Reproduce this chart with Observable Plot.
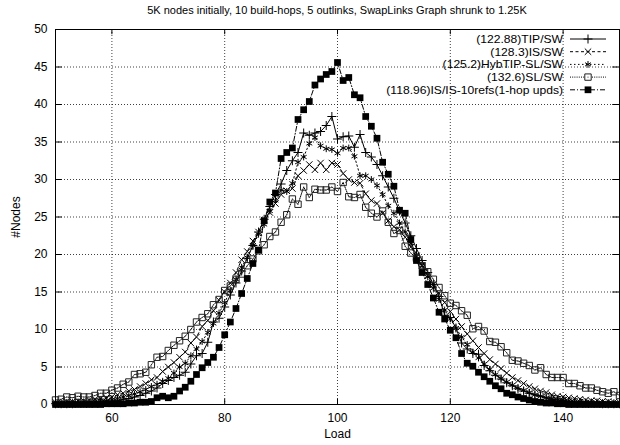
<!DOCTYPE html>
<html><head><meta charset="utf-8">
<script src="https://cdn.jsdelivr.net/npm/d3@7"></script>
<script src="https://cdn.jsdelivr.net/npm/@observablehq/plot@0.6"></script>
<style>
body{margin:0;background:#fff;font-family:"Liberation Sans",Arial,sans-serif;}
#wrap{position:relative;width:620px;height:445px;}
#title{position:absolute;left:0;width:674px;top:4px;text-align:center;font-size:11px;color:#000;}
</style></head><body>
<div id="wrap"><div id="title">5K nodes initially, 10 build-hops, 5 outlinks, SwapLinks Graph shrunk to 1.25K</div></div>
<script>
const xTicks = [60, 80, 100, 120, 140];
const yTicks = [0, 5, 10, 15, 20, 25, 30, 35, 40, 45, 50];
const loads = d3.range(50, 151);
const seriesNames = ["(122.88)TIP/SW", "(128.3)IS/SW", "(125.2)HybTIP-SL/SW", "(132.6)SL/SW", "(118.96)IS/IS-10refs(1-hop upds)"];

const tipSW = [0.1,0.1,0.1,0.1,0.2,0.2,0.2,0.3,0.3,0.4,
 0.4,0.5,0.7,0.8,1.0,1.2,1.5,1.8,2.2,2.8,
 3.2,3.6,3.9,4.3,5.4,6.5,6.8,8.3,11,11.5,
 13.0,14.6,16.2,17.8,19.5,21.2,23,24.7,26.4,28,
 29.4,31.2,32.5,33.6,36.2,35.9,36.2,36.4,37.2,38.4,
 35.4,35.7,35.8,34.3,36,33.6,33,32,30.5,29,
 27.5,25.8,24.2,22.5,20.8,19.2,17.6,16,14.4,11.9,
 11.6,10.2,8.2,7.4,6.8,6.7,5.2,4.5,3.9,3.4,
 2.9,2.5,2.1,1.8,1.5,1.3,1.1,0.9,0.7,0.6,
 0.5,0.4,0.3,0.3,0.2,0.2,0.2,0.1,0.1,0.1,0.1];
const isSW = [0.3,0.3,0.4,0.4,0.5,0.5,0.6,0.7,0.8,0.9,
 1.0,1.3,1.5,1.8,2.0,2.4,2.8,3.3,3.6,4.4,
 5.0,5.6,6.3,7.0,8.2,9.0,10.4,11.2,12.5,13.9,
 15.0,16.2,17.6,19.3,20.4,21.8,23.0,24.6,25.6,26.8,
 28.0,28.5,28.8,30.5,31.2,32,31.3,32.2,31.3,32.2,
 32,30.8,30,29.6,29.5,28.1,27.2,26.8,25.5,24.5,
 23.7,23.3,22.3,21,19.8,18.5,17.2,16.0,14.8,13.6,
 12.4,11.4,10.4,9.4,8.5,7.6,6.8,6.0,5.4,4.8,
 4.2,3.6,3.2,2.8,2.4,2.1,1.8,1.6,1.3,1.1,
 1.0,0.9,0.8,0.7,0.6,0.5,0.5,0.4,0.4,0.3,0.3];
const hybSW = [0.1,0.1,0.2,0.2,0.2,0.3,0.3,0.4,0.5,0.5,
 0.6,0.8,1.0,1.2,1.4,1.7,2.0,2.4,2.7,3.1,
 3.5,4.2,5.0,5.5,6.5,7.4,8.4,9.6,10.8,12.2,
 13.6,15.2,16.7,18.3,19.6,21.2,22.7,24.0,25.8,27.2,
 28.6,28.4,29.5,32.3,33,34.8,35.6,34.5,34.1,34.0,
 33.5,34.2,34.2,33.1,30.5,30.5,30.0,29.2,28,26.5,
 25.5,24.2,23,21.5,20,18.5,17,15.5,14,12.6,
 11.4,10.2,9.0,8.0,7.0,6.2,5.4,4.7,4.0,3.5,
 3.0,2.6,2.2,1.9,1.6,1.3,1.1,0.9,0.8,0.7,
 0.6,0.5,0.4,0.4,0.3,0.3,0.2,0.2,0.2,0.1,0.1];
const slSW = [0.6,0.7,1.0,0.9,1.1,1.0,1.0,1.2,1.5,1.5,
 1.9,2.2,2.7,3.0,4.0,4.1,4.3,5.3,6.3,6.4,
 7.2,7.9,8.5,9.1,10.0,11.0,11.6,12.1,13.3,14,
 15.2,15.8,16.7,17.4,18.5,19.4,20.5,21.3,22.4,23,
 24.3,25.3,27.4,26.7,29,27.6,28.7,28.6,28.6,29,
 28.4,29.6,27.7,27.6,28,26.3,25.5,25,25.8,24.3,
 22.8,23.2,21.1,20.2,19.5,18.5,17.7,16.7,15.6,14.5,
 13.5,13.2,12.5,11.9,10.1,10.4,9.8,8.4,8.3,7.7,
 6.9,5.9,5.8,5.5,5.2,4.6,4.9,4.0,3.6,3.6,
 3.6,2.8,2.8,2.5,2.2,2.2,1.9,1.7,1.5,1.7,1.2];
const isIS = [0,0,0,0,0,0,0,0,0,0.1,
 0.1,0.1,0.1,0.2,0.2,0.3,0.3,0.4,0.9,1.1,
 0.9,1.1,1.8,2.3,3.1,4.0,4.9,5.6,6.3,7.6,
 9.3,11,12.8,14.8,16.8,18.8,20.6,24.5,27,28.2,
 32.8,33.6,34.2,38,39.3,40.4,42.6,43.4,44,44.4,
 45.6,43.2,43.6,41.3,40.9,38.4,37.1,35.5,32.3,30.7,
 29.1,25.9,25.5,22,19.2,17.6,16,14.2,12.3,11.4,
 9.9,8.9,6.8,5.5,5.1,4.3,3.7,3.1,2.5,2.1,
 1.5,1.3,1.0,0.8,0.6,0.4,0.3,0.2,0.2,0.1,
 0.1,0,0,0,0,0,0,0,0,0,0];

const allSeries = [tipSW, isSW, hybSW, slSW, isIS];
const styles = [
  {symbol: "plus", r: 3.0, fill: "none", stroke: "#000", dash: null, center: false},
  {symbol: "times", r: 3.0, fill: "none", stroke: "#000", dash: "3,2.5", center: false},
  {symbol: "asterisk", r: 3.2, fill: "none", stroke: "#000", dash: "1.5,2.5", center: false},
  {symbol: "square", r: 3.6, fill: "none", stroke: "#222", dash: "1,1.2", center: true},
  {symbol: "square", r: 3.8, fill: "#000", stroke: "none", dash: "5,2,1,2", center: false}
];
const rows = [];
allSeries.forEach((arr, si) => arr.forEach((v, i) => rows.push({s: si, load: loads[i], v})));

const marks = [
  Plot.gridX(xTicks, {stroke: "#000", strokeOpacity: 0.75, strokeDasharray: "1,2"}),
  Plot.gridY(yTicks.slice(1, -1), {stroke: "#000", strokeOpacity: 0.75, strokeDasharray: "1,2"}),
  Plot.axisX(xTicks, {anchor: "bottom", tickSize: 0, tickPadding: 9, fontSize: 12, label: "Load", labelAnchor: "center", labelArrow: "none", labelOffset: 33}),
  Plot.axisY(yTicks, {anchor: "left", tickSize: 0, tickPadding: 8, fontSize: 12, label: "#Nodes", labelAnchor: "center", labelArrow: "none", labelOffset: 44}),
  Plot.ruleX(xTicks, {y1: 0, y2: 0.7, stroke: "#000"}),
  Plot.ruleX(xTicks, {y1: 49.3, y2: 50, stroke: "#000"}),
  Plot.ruleY(yTicks, {x1: 50, x2: 51.2, stroke: "#000"}),
  Plot.ruleY(yTicks, {x1: 148.8, x2: 150, stroke: "#000"})
];

styles.forEach((st, si) => {
  const data = rows.filter(r => r.s === si);
  marks.push(Plot.line(data, {x: "load", y: "v", stroke: "#000", strokeWidth: 1, strokeDasharray: st.dash}));
  marks.push(Plot.dot(data, {x: "load", y: "v", symbol: () => st.symbol, r: st.r, fill: st.fill, stroke: st.stroke, strokeWidth: 1}));
  if (st.center) marks.push(Plot.dot(data, {x: "load", y: "v", r: 0.6, fill: "#444", stroke: "none"}));
});
marks.push(Plot.frame({stroke: "#000"}));

const chart = Plot.plot({
  width: 620, height: 445,
  marginLeft: 55, marginRight: 1, marginTop: 29, marginBottom: 41,
  x: {domain: [50, 150]},
  y: {domain: [0, 50]},
  style: {fontFamily: "'Liberation Sans', Arial, sans-serif", fontSize: "12px", color: "#000", background: "#fff"},
  marks
});
document.getElementById("wrap").appendChild(chart);

// legend
const svg = d3.select(chart);
const lg = svg.append("g");
const sym = {plus: d3.symbolPlus, times: d3.symbolTimes, asterisk: d3.symbolAsterisk, square: d3.symbolSquare};
seriesNames.forEach((name, i) => {
  const y = 39 + 12.7 * i, st = styles[i];
  const t = lg.append("text").attr("x", 563).attr("y", y).attr("dy", "0.35em").attr("text-anchor", "end")
    .attr("font-size", 11).attr("fill", "#000").text(name);
  const w = t.node().getComputedTextLength();
  t.attr("textLength", w * 1.1).attr("lengthAdjust", "spacingAndGlyphs");
  lg.append("line").attr("x1", 570).attr("x2", 606).attr("y1", y).attr("y2", y)
    .attr("stroke", "#000").attr("stroke-dasharray", st.dash);
  lg.append("path").attr("transform", `translate(588,${y})`)
    .attr("d", d3.symbol(sym[st.symbol], Math.PI * st.r * st.r)())
    .attr("fill", st.fill === "none" ? "#fff" : st.fill).attr("stroke", st.stroke);
  if (st.center) lg.append("circle").attr("cx", 588).attr("cy", y).attr("r", 0.6).attr("fill", "#444");
});
</script></body></html>
